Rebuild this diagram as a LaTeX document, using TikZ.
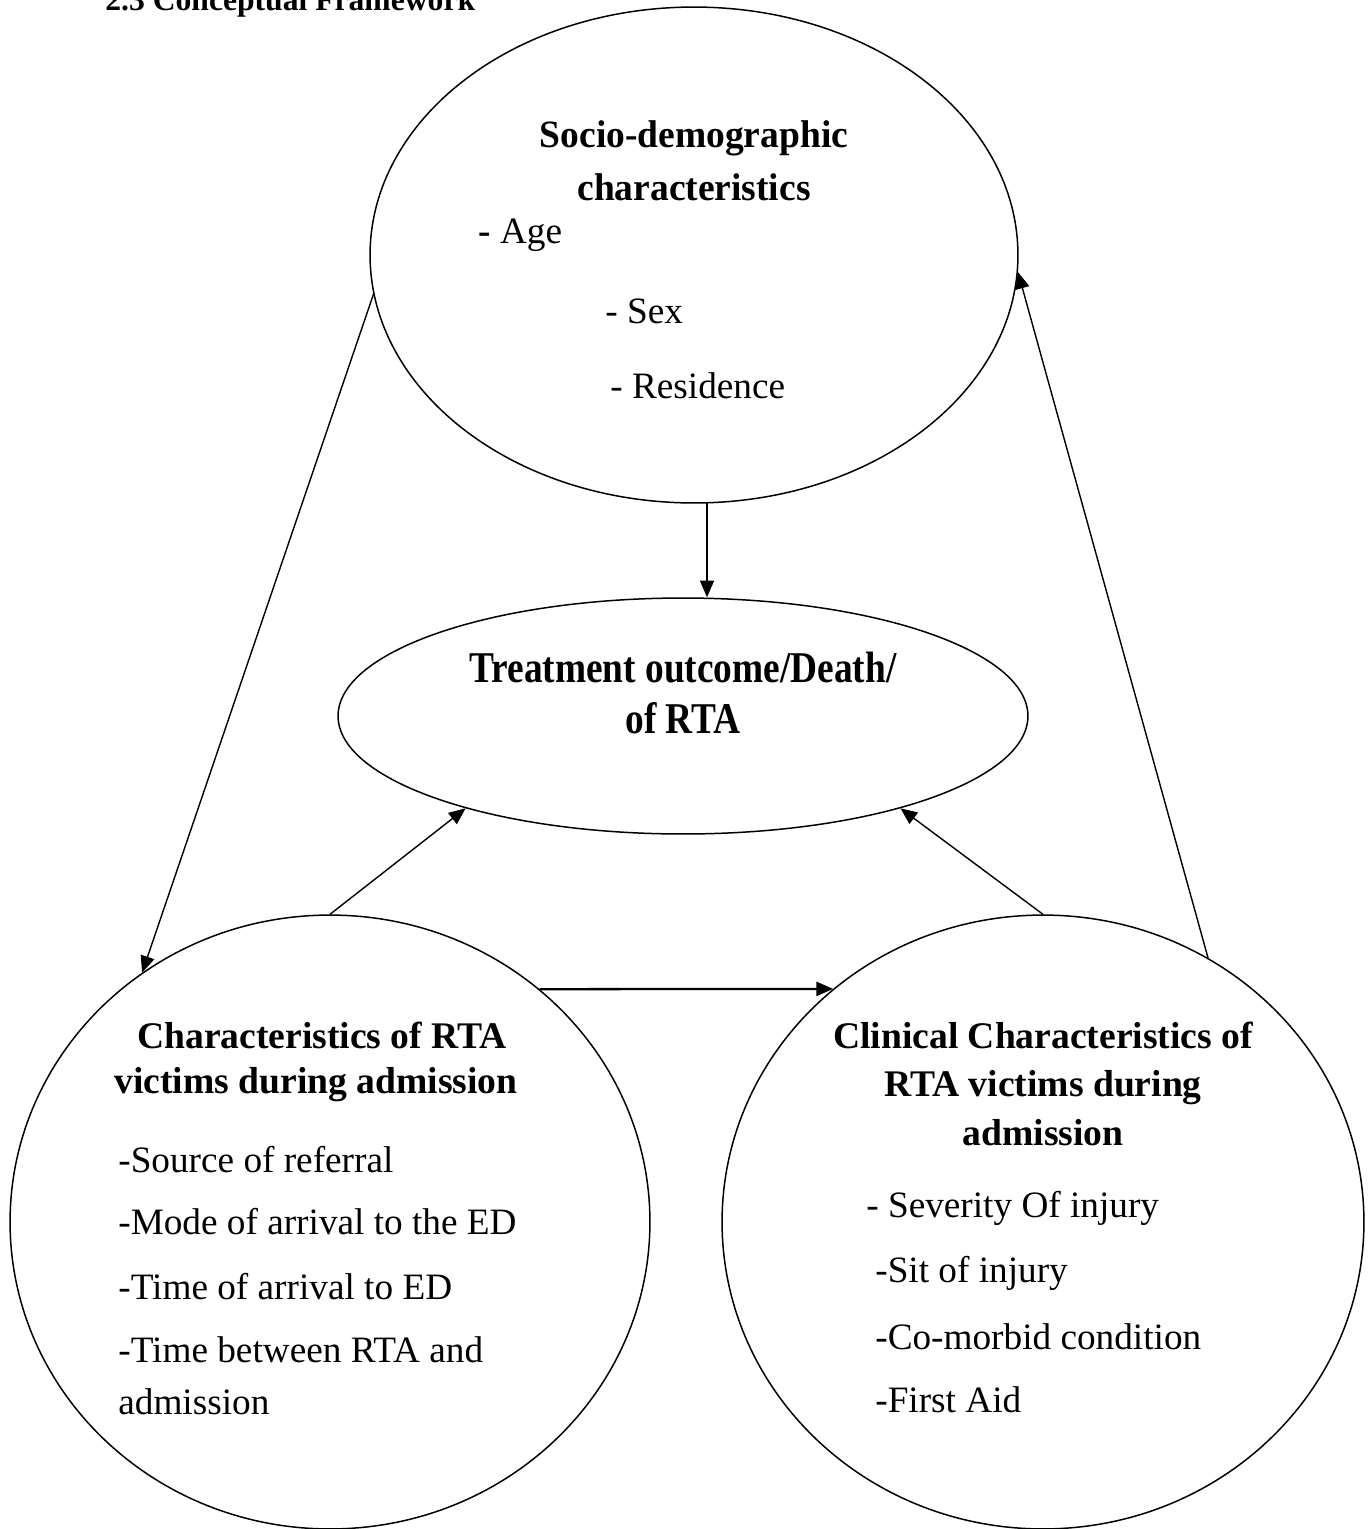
\documentclass[tikz,border=0pt]{standalone}
\usepackage{fontspec}
\setmainfont{Liberation Serif}
\usepackage{tikz}
\usepackage{graphicx}
\usetikzlibrary{calc, arrows.meta, shapes.geometric}

\tikzset{
  blob/.style={draw, ellipse, line width=0.85pt, inner sep=0pt},
  head/.style={font=\bfseries\fontsize{21.4}{24}\selectfont, inner sep=0pt},
  item/.style={font=\fontsize{21.2}{24}\selectfont, inner sep=0pt, anchor=west},
}

\begin{document}
\begin{tikzpicture}[x=0.02cm, y=-0.02cm, >={Triangle[length=9.5pt, width=8pt]}]
  \useasboundingbox (0,0) rectangle (1370,1529);
  % Title (cut at the top edge)
  \node[font=\bfseries\fontsize{18}{20}\selectfont, anchor=base west, inner sep=0pt] (title) at (105,10) {2.3 Conceptual Framework};
  % Ellipses
  \node[blob, minimum width=12.96cm, minimum height=9.92cm] (soc) at (694,255) {};
  \node[blob, minimum width=13.8cm, minimum height=4.72cm] (out) at (683,716) {};
  \node[blob, minimum width=12.8cm, minimum height=12.28cm] (adm) at (330,1222) {};
  \node[blob, minimum width=12.84cm, minimum height=12.28cm] (cli) at (1043,1222) {};
  % Socio-demographic
  \node[head, font=\bfseries\fontsize{22}{24}\selectfont] (soc1) at (694,138) {\scalebox{0.97}[1]{Socio-demographic}};
  \node[head, font=\bfseries\fontsize{22}{24}\selectfont] (soc2) at (694,187) {\scalebox{0.97}[1]{characteristics}};
  \node[item] (age) at (478,235) {\textbf{-} Age};
  \node[item] (sex) at (605,311) {- Sex};
  \node[item] (res) at (610,386) {- Residence};
  % Outcome
  \node[head, font=\bfseries\fontsize{25}{28}\selectfont] (out1) at (683,668) {\scalebox{0.85}[1]{Treatment outcome/Death/}};
  \node[head, font=\bfseries\fontsize{25}{28}\selectfont] (out2) at (683,718) {\scalebox{0.85}[1]{of RTA}};
  % Characteristics during admission
  \node[head] (adm1) at (322,1035) {Characteristics of RTA};
  \node[head] (adm2) at (316,1085) {victims during admission};
  \node[item] (src) at (118,1160) {-Source of referral};
  \node[item] (mode) at (118,1222) {-Mode of arrival to the ED};
  \node[item] (tarr) at (118,1287) {-Time of arrival to ED};
  \node[item] (tbtw) at (118,1350) {-Time between RTA and};
  \node[item] (tbtw2) at (118,1402) {admission};
  % Clinical characteristics
  \node[head] (cli1) at (1043,1035) {Clinical Characteristics of};
  \node[head] (cli2) at (1043,1088) {RTA victims during};
  \node[head] (cli3) at (1043,1133) {admission};
  \node[item] (sev) at (866,1208) {- Severity Of injury};
  \node[item] (sit) at (875,1273) {-Sit of injury};
  \node[item] (com) at (875,1337) {-Co-morbid condition};
  \node[item] (aid) at (875,1400) {-First Aid};
  % Arrows
  \draw[->, line width=0.9pt] (soc.-87) -- (soc.-87 |- out.north);
  \draw[->, line width=0.8pt] (soc.187) -- (adm.127);
  \draw[->, line width=0.8pt] (cli.58) -- (soc.-3);
  \draw[->, line width=0.8pt] (adm.north) -- (out.203);
  \draw[->, line width=0.8pt] (cli.north) -- (out.-23);
  \draw[->, line width=1.3pt] (adm.48) -- (cli.132);
\end{tikzpicture}
\end{document}
